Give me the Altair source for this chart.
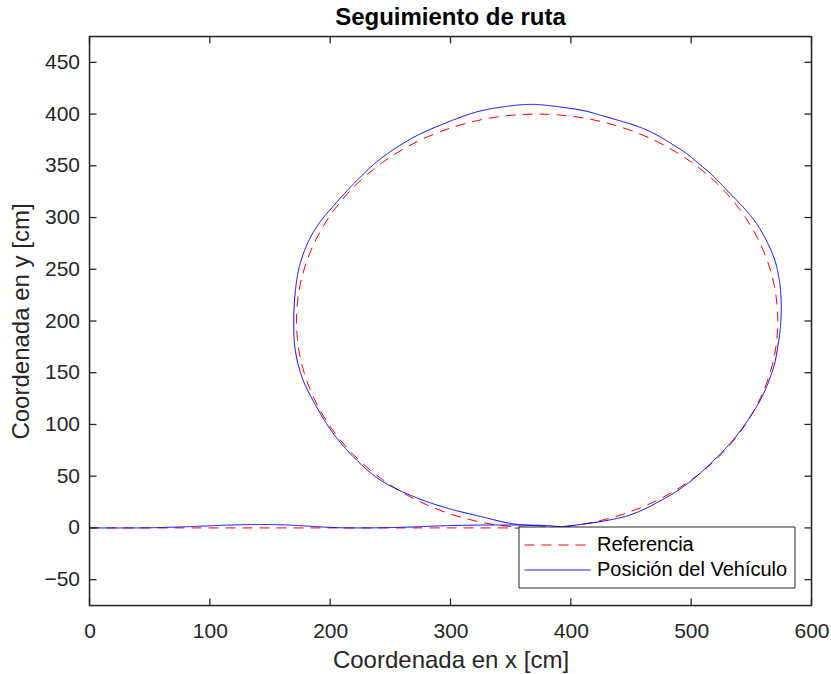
import altair as alt
import pandas as pd

# Reference path (straight approach + circle)
ref_x = [0, 100, 200, 300, 340, 372, 406.7, 440.4, 472, 500.6, 525.2, 545.2, 559.9, 569.0, 572,
         569.0, 559.9, 545.2, 525.2, 500.6, 472, 440.4, 406.7, 372, 337.3, 303.6, 272, 243.4,
         218.8, 198.8, 184.1, 175.0, 172, 175.0, 184.1, 198.8, 218.8, 243.4, 272, 303.6, 337.3, 372]
ref_y = [0, 0, 0, 0, 0, 0, 3.0, 12.1, 26.8, 46.8, 71.4, 100, 131.6, 165.3, 200,
         234.7, 268.4, 300, 328.6, 353.2, 373.2, 387.9, 397.0, 400, 397.0, 387.9, 373.2, 353.2,
         328.6, 300, 268.4, 234.7, 200, 165.3, 131.6, 100, 71.4, 46.8, 26.8, 12.1, 3.0, 0]

# Vehicle position
veh_x = [0, 40, 60, 80, 100, 120, 141, 160, 178, 195, 210, 230, 250, 270, 290, 310, 340, 365, 382,
         392, 410, 428, 446, 460, 473.7, 488, 501.4, 515, 529.1, 541, 551.2, 559, 565.1, 569.5,
         572, 574, 574.8, 574.6, 573.2, 570.5, 566.5, 561.5, 555.5, 548.5, 540.5, 530, 518, 507,
         495.9, 482, 468.1, 454, 440.5, 426, 412.8, 398, 385, 368,
         351.8, 324.1, 296.4, 268.7, 241, 221.6, 205, 191.1, 181.4, 174.5,
         171.2, 169.8, 170.9, 177.3, 188.4, 202.2, 218.8, 241, 268.7, 296.4, 324.1, 351.8, 379.5]
veh_y = [0, 0, 0.4, 1.1, 2.0, 2.9, 3.3, 3.0, 2.0, 0.8, 0.1, 0, 0.3, 1.0, 1.9, 2.5, 2.8, 2.7, 2.2,
         1.3, 3.6, 6.8, 11.3, 17.6, 25.8, 35.5, 46.8, 61, 77.4, 94, 111.3, 127, 143.6, 159.5,
         175.6, 192, 207.9, 224, 240, 255, 268, 280, 292, 303, 313.5, 326, 340.5, 351.5,
         362, 372.5, 381.9, 388.8, 393.6, 398.5, 402.8, 405.8, 407.8, 409.4,
         408.2, 402.8, 391.6, 377.1, 356, 335.1, 314.3, 294.9, 275.6, 253,
         230.4, 204.6, 172.5, 143.5, 117.6, 91.9, 69.3, 46.8, 30.6, 19.4, 11.3, 4.0, 1.6]

series = ["Referencia", "Posición del Vehículo"]
x_ticks = [0, 100, 200, 300, 400, 500, 600]
y_ticks = [-50, 0, 50, 100, 150, 200, 250, 300, 350, 400, 450]

FONT = "Liberation Sans"
AX = "#262626"
W, H = 722, 569

df = pd.concat([
    pd.DataFrame({"x": ref_x, "y": ref_y, "serie": series[0], "i": range(len(ref_x))}),
    pd.DataFrame({"x": veh_x, "y": veh_y, "serie": series[1], "i": range(len(veh_x))}),
])

xs = alt.Scale(domain=[0, 600], nice=False, zero=False)
ys = alt.Scale(domain=[-75, 475], nice=False, zero=False)

legend = alt.Legend(title=None, orient="none", legendX=429, legendY=490,
                    symbolType="M-3,0H3", symbolSize=484, symbolStrokeWidth=1,
                    symbolOffset=20.5, labelOffset=28, labelLimit=400,
                    labelFont=FONT, labelFontSize=20, labelColor="black",
                    strokeColor=AX, fillColor="white", padding=7, rowPadding=3,
                    cornerRadius=0)
color = alt.Color("serie:N", scale=alt.Scale(domain=series, range=["#FF0000", "#0000FF"]),
                  legend=legend)
dash = alt.StrokeDash("serie:N", scale=alt.Scale(domain=series, range=[[10, 7], [1, 0]]),
                      legend=legend)

xaxis = alt.Axis(values=x_ticks, title="Coordenada en x [cm]", tickSize=0, labelPadding=15,
                 grid=False, domain=False, labelFlush=False, labelFont=FONT, labelFontSize=21,
                 labelColor=AX, titleFont=FONT, titleFontSize=24, titleFontWeight="normal",
                 titleColor=AX, titlePadding=7)
yaxis = alt.Axis(values=y_ticks, title="Coordenada en y [cm]", tickSize=0, labelPadding=10,
                 grid=False, domain=False, labelFlush=False, labelFont=FONT, labelFontSize=21,
                 labelColor=AX, titleFont=FONT, titleFontSize=24, titleFontWeight="normal",
                 titleColor=AX, titlePadding=10)

base = alt.Chart(df)
ref_line = base.transform_filter(alt.datum.serie == series[0]).mark_line(
    strokeWidth=1, interpolate="catmull-rom").encode(
    x=alt.X("x:Q", scale=xs, axis=xaxis), y=alt.Y("y:Q", scale=ys, axis=yaxis),
    color=color, strokeDash=dash, order="i:Q")
veh_line = base.transform_filter(alt.datum.serie == series[1]).mark_line(
    strokeWidth=1, interpolate="catmull-rom").encode(
    x=alt.X("x:Q", scale=xs, axis=xaxis), y=alt.Y("y:Q", scale=ys, axis=yaxis),
    color=color, strokeDash=dash, order="i:Q")

xt = pd.DataFrame({"v": x_ticks})
yt = pd.DataFrame({"v": y_ticks})
TW = 1.3
tick_bottom = alt.Chart(xt).mark_rule(color=AX, strokeWidth=TW).encode(
    x=alt.X("v:Q", scale=xs, axis=xaxis), y=alt.value(H), y2=alt.value(H - 7))
tick_top = alt.Chart(xt).mark_rule(color=AX, strokeWidth=TW).encode(
    x=alt.X("v:Q", scale=xs, axis=xaxis), y=alt.value(0), y2=alt.value(7))
tick_left = alt.Chart(yt).mark_rule(color=AX, strokeWidth=TW).encode(
    y=alt.Y("v:Q", scale=ys, axis=yaxis), x=alt.value(0), x2=alt.value(7))
tick_right = alt.Chart(yt).mark_rule(color=AX, strokeWidth=TW).encode(
    y=alt.Y("v:Q", scale=ys, axis=yaxis), x=alt.value(W), x2=alt.value(W - 7))

frame = alt.Chart(pd.DataFrame({"v": [0]})).mark_rect(
    fillOpacity=0, stroke=AX, strokeWidth=1.5).encode(
    x=alt.value(0), x2=alt.value(W), y=alt.value(0), y2=alt.value(H))

chart = alt.layer(ref_line, veh_line, tick_bottom, tick_top, tick_left, tick_right, frame).properties(
    width=W, height=H,
    title=alt.TitleParams("Seguimiento de ruta", font=FONT, fontSize=24, fontWeight="bold",
                          color="black", offset=6, anchor="middle"),
    autosize=alt.AutoSizeParams(type="none"),
    padding={"left": 89.5, "top": 36.5, "right": 19.5, "bottom": 68.5},
).configure_view(strokeWidth=0).configure(background="white")

chart.save("out.html", embed_options={"renderer": "svg", "actions": False})
